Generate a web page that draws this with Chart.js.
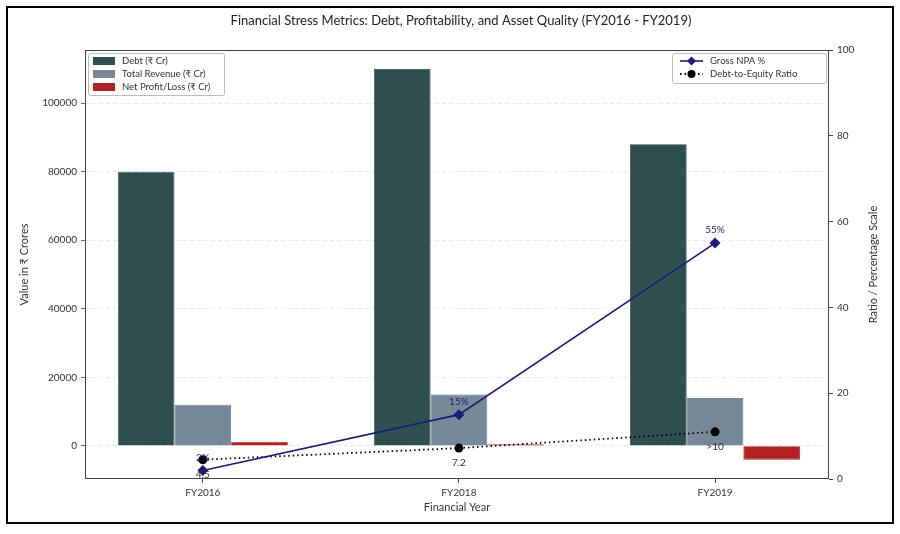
<!DOCTYPE html>
<html>
<head>
<meta charset="utf-8">
<script src="https://cdn.jsdelivr.net/npm/chart.js@4.4.1/dist/chart.umd.min.js"></script>
<style>
  html, body { margin: 0; padding: 0; background: #fff; }
  #wrap { width: 900px; height: 534px; }
</style>
</head>
<body>
<div id="wrap"><canvas id="chart" width="900" height="534"></canvas></div>
<script>
// --- DATA ---
const years = ['FY2016', 'FY2018', 'FY2019'];
const debt = [80000, 110000, 88000];
const revenue = [12000, 15000, 14000];
const netProfit = [1200, 500, -4000];
const grossNpa = [2, 15, 55];
const debtEquity = [4.5, 7.2, 11];
const npaLabels = ['2%', '15%', '55%'];
const deLabels = ['4.5', '7.2', '>10'];
const leftTicks = [0, 20000, 40000, 60000, 80000, 100000];
const rightTicks = [0, 20, 40, 60, 80, 100];

const FONT = 'Lato, "Noto Sans", sans-serif';
const C_DEBT = '#2f4f4f', C_REV = '#778899', C_NP = '#b22222', C_NPA = '#1c1c78', C_DE = '#000';

const pts = arr => arr.map((v, i) => ({ x: i, y: v }));

// --- DECORATION: frames, title, axis titles, point labels, legends ---
const decor = {
    id: 'decor',
    beforeDraw(chart) {
        const ctx = chart.ctx;
        ctx.save();
        ctx.fillStyle = '#fff';
        ctx.fillRect(0, 0, chart.width, chart.height);
        ctx.restore();
    },
    afterDraw(chart) {
        const { ctx, chartArea: a } = chart;
        ctx.save();

        // plot frame
        ctx.strokeStyle = '#444';
        ctx.lineWidth = 1;
        ctx.strokeRect(a.left + 0.5, a.top + 0.5, a.right - a.left - 1, a.bottom - a.top - 1);

        // figure frame
        ctx.strokeStyle = '#000';
        ctx.lineWidth = 2;
        ctx.strokeRect(7, 7, 886, 516);

        // title
        ctx.fillStyle = '#222';
        ctx.textAlign = 'center';
        ctx.textBaseline = 'middle';
        ctx.font = '13px ' + FONT;
        ctx.fillText('Financial Stress Metrics: Debt, Profitability, and Asset Quality (FY2016 - FY2019)', 461, 21);

        // axis titles
        ctx.font = '11px ' + FONT;
        ctx.fillStyle = '#333';
        ctx.fillText('Financial Year', (a.left + a.right) / 2, 507);
        ctx.save();
        ctx.translate(24, (a.top + a.bottom) / 2);
        ctx.rotate(-Math.PI / 2);
        ctx.fillText('Value in ₹ Crores', 0, 0);
        ctx.restore();
        ctx.save();
        ctx.translate(873, (a.top + a.bottom) / 2);
        ctx.rotate(-Math.PI / 2);
        ctx.fillText('Ratio / Percentage Scale', 0, 0);
        ctx.restore();

        // point labels
        ctx.font = '10px ' + FONT;
        chart.getDatasetMeta(3).data.forEach((p, i) => {
            ctx.fillStyle = C_NPA;
            ctx.fillText(npaLabels[i], p.x, p.y - 13);
        });
        chart.getDatasetMeta(4).data.forEach((p, i) => {
            ctx.fillStyle = '#333';
            ctx.fillText(deLabels[i], p.x, p.y + 15);
        });

        // legend 1 (bars)
        ctx.font = '9.5px ' + FONT;
        ctx.textAlign = 'left';
        ctx.fillStyle = 'rgba(255,255,255,0.85)';
        ctx.strokeStyle = '#bbb';
        ctx.lineWidth = 1;
        ctx.beginPath();
        ctx.roundRect(88.5, 53.5, 136, 42, 2);
        ctx.fill();
        ctx.stroke();
        const barItems = [['Debt (₹ Cr)', C_DEBT], ['Total Revenue (₹ Cr)', C_REV], ['Net Profit/Loss (₹ Cr)', C_NP]];
        barItems.forEach(([t, c], i) => {
            const y = 61 + i * 13;
            ctx.fillStyle = c;
            ctx.fillRect(93, y - 4, 22, 8);
            ctx.fillStyle = '#333';
            ctx.fillText(t, 122, y);
        });

        // legend 2 (lines)
        ctx.fillStyle = 'rgba(255,255,255,0.85)';
        ctx.strokeStyle = '#bbb';
        ctx.beginPath();
        ctx.roundRect(672.5, 53.5, 154, 30, 2);
        ctx.fill();
        ctx.stroke();
        // NPA sample
        let y = 61;
        ctx.strokeStyle = C_NPA;
        ctx.lineWidth = 1.6;
        ctx.beginPath();
        ctx.moveTo(680, y); ctx.lineTo(703, y); ctx.stroke();
        ctx.fillStyle = C_NPA;
        ctx.beginPath();
        ctx.moveTo(691.5, y - 4.5); ctx.lineTo(696, y); ctx.lineTo(691.5, y + 4.5); ctx.lineTo(687, y);
        ctx.closePath(); ctx.fill();
        ctx.fillStyle = '#333';
        ctx.fillText('Gross NPA %', 710, y);
        // D/E sample
        y = 74;
        ctx.strokeStyle = C_DE;
        ctx.lineWidth = 1.8;
        ctx.setLineDash([1.5, 3]);
        ctx.beginPath();
        ctx.moveTo(680, y); ctx.lineTo(703, y); ctx.stroke();
        ctx.setLineDash([]);
        ctx.fillStyle = C_DE;
        ctx.beginPath();
        ctx.arc(691.5, y, 4, 0, Math.PI * 2);
        ctx.fill();
        ctx.fillStyle = '#333';
        ctx.fillText('Debt-to-Equity Ratio', 710, y);

        ctx.restore();
    }
};

Chart.defaults.font.family = FONT;
Chart.defaults.color = '#333';

new Chart(document.getElementById('chart'), {
    type: 'bar',
    data: {
        datasets: [
            { label: 'Debt (₹ Cr)', data: pts(debt), backgroundColor: C_DEBT, borderColor: '#3a4a4a', borderWidth: 0.8, yAxisID: 'y', order: 1 },
            { label: 'Total Revenue (₹ Cr)', data: pts(revenue), backgroundColor: C_REV, borderColor: '#5a6470', borderWidth: 0.8, yAxisID: 'y', order: 1 },
            { label: 'Net Profit/Loss (₹ Cr)', data: pts(netProfit), backgroundColor: C_NP, borderColor: '#9a3030', borderWidth: 0.8, yAxisID: 'y', order: 1 },
            {
                type: 'line', label: 'Gross NPA %', data: pts(grossNpa), yAxisID: 'y1', order: 0,
                borderColor: C_NPA, backgroundColor: C_NPA, borderWidth: 1.6,
                pointStyle: 'rectRot', pointRadius: 5.5, pointBorderWidth: 0, tension: 0
            },
            {
                type: 'line', label: 'Debt-to-Equity Ratio', data: pts(debtEquity), yAxisID: 'y1', order: 0,
                borderColor: C_DE, backgroundColor: C_DE, borderWidth: 1.8, borderDash: [1.5, 3],
                pointStyle: 'circle', pointRadius: 4.5, pointBorderWidth: 0, tension: 0
            }
        ]
    },
    options: {
        responsive: false,
        animation: false,
        devicePixelRatio: 1,
        layout: { padding: { top: 50, left: 0, right: 0, bottom: 0 } },
        plugins: { legend: { display: false }, tooltip: { enabled: false } },
        datasets: { bar: { barPercentage: 1, categoryPercentage: 0.664 } },
        scales: {
            x: {
                type: 'linear',
                offset: false,
                min: -0.46,
                max: 2.445,
                afterBuildTicks: ax => { ax.ticks = years.map((_, i) => ({ value: i })); },
                afterFit: ax => { ax.height = 55; },
                ticks: { callback: v => years[v], font: { size: 10 }, color: '#333', padding: 4, maxRotation: 0 },
                grid: { offset: false, drawOnChartArea: false, tickLength: 4, tickColor: '#444' },
                border: { display: false }
            },
            y: {
                position: 'left',
                min: -9650,
                max: 115500,
                afterBuildTicks: ax => { ax.ticks = leftTicks.map(v => ({ value: v })); },
                afterFit: ax => { ax.width = 85; },
                ticks: { callback: v => String(v), font: { size: 10 }, color: '#333', padding: 4 },
                grid: { color: '#e2e2e2', lineWidth: 0.8, tickLength: 4, tickColor: '#444', tickBorderDash: [] },
                border: { display: false, dash: [4, 3] }
            },
            y1: {
                position: 'right',
                min: 0,
                max: 100,
                afterBuildTicks: ax => { ax.ticks = rightTicks.map(v => ({ value: v })); },
                afterFit: ax => { ax.width = 71; },
                ticks: { font: { size: 10 }, color: '#333', padding: 4 },
                grid: { drawOnChartArea: false, tickLength: 4, tickColor: '#444' },
                border: { display: false }
            }
        }
    },
    plugins: [decor]
});
</script>
</body>
</html>
